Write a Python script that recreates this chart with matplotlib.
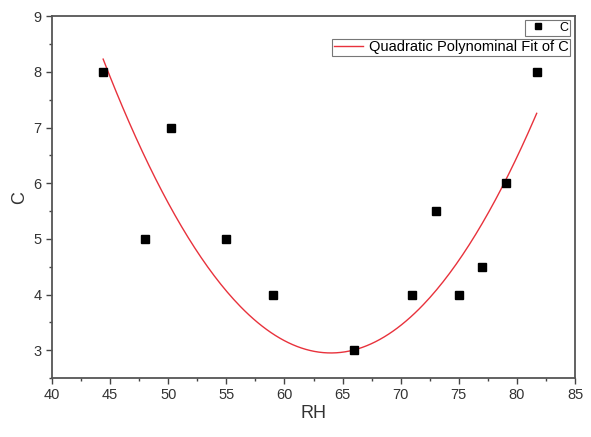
import numpy as np
import matplotlib
matplotlib.use("Agg")
import matplotlib.pyplot as plt
from matplotlib.ticker import MultipleLocator
from matplotlib.lines import Line2D

plt.rcParams["font.family"] = ["Liberation Sans", "DejaVu Sans"]

# data
rh = [44.4, 48, 50.2, 55, 59, 66, 71, 73, 75, 77, 79.1, 81.7]
c = [8, 5, 7, 5, 4, 3, 4, 5.5, 4, 4.5, 6, 8]

# quadratic fit as drawn in the picture (vertex form)
fit_vertex_rh = 64.0
fit_vertex_c = 2.95
fit_curv = 0.01374

xfit = np.linspace(min(rh), max(rh), 200)
yfit = fit_curv * (xfit - fit_vertex_rh) ** 2 + fit_vertex_c

fig = plt.figure(figsize=(5.91, 4.37), dpi=100)
ax = fig.add_axes([0.088, 0.135, 0.885, 0.828])

ax.plot(xfit, yfit, color="#e8323c", lw=1.0, zorder=2)
ax.plot(rh, c, ls="none", marker="s", ms=6, color="black", zorder=3)

ax.set_xlim(40, 85)
ax.set_ylim(2.5, 9)
ax.xaxis.set_major_locator(MultipleLocator(5))
ax.xaxis.set_minor_locator(MultipleLocator(2.5))
ax.yaxis.set_major_locator(MultipleLocator(1))
ax.yaxis.set_minor_locator(MultipleLocator(0.5))
ax.tick_params(which="major", direction="out", length=4, width=1, colors="#444444",
               labelsize=10.5, labelcolor="#333333")
ax.tick_params(which="minor", direction="out", length=2.5, width=1, colors="#444444")
for s in ax.spines.values():
    s.set_color("#555555")
    s.set_linewidth(1.3)

ax.set_xlabel("RH", fontsize=13, color="#333333", labelpad=2)
ax.set_ylabel("C", fontsize=13, color="#333333", labelpad=4)

# two separate legend boxes, as in the original
h1 = Line2D([], [], ls="none", marker="s", ms=5, color="black")
leg1 = ax.legend([h1], ["C"], loc="upper right", bbox_to_anchor=(0.99, 0.99),
                 fontsize=9, frameon=True, fancybox=False, edgecolor="#555555",
                 handlelength=1.8, borderpad=0.15, borderaxespad=0)
leg1.get_frame().set_linewidth(0.8)
ax.add_artist(leg1)
h2 = Line2D([], [], color="#e8323c", lw=1.0)
leg2 = ax.legend([h2], ["Quadratic Polynominal Fit of C"], loc="upper right",
                 bbox_to_anchor=(0.99, 0.937), fontsize=10.5, frameon=True,
                 fancybox=False, edgecolor="#555555", handlelength=2.0,
                 handletextpad=0.4, borderpad=0.1, borderaxespad=0)
leg2.get_frame().set_linewidth(0.8)

fig.savefig("out.png", dpi=100)
